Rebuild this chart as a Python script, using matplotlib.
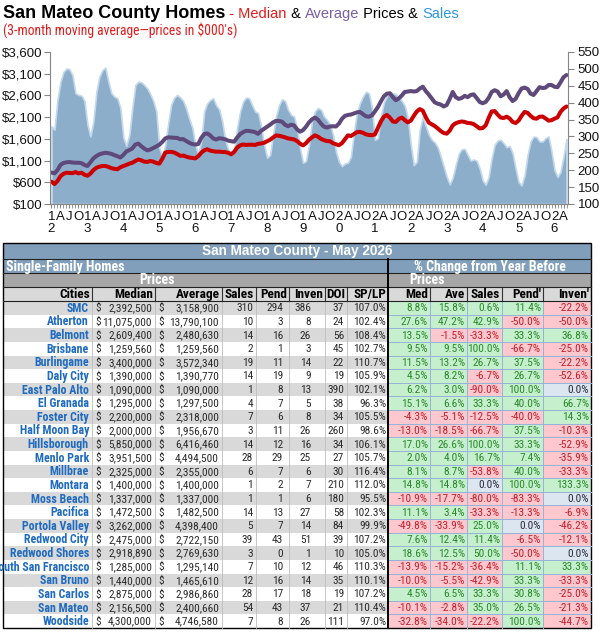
import matplotlib
matplotlib.use("Agg")
import matplotlib.pyplot as plt
from matplotlib import font_manager
from matplotlib.patches import Rectangle
import numpy as np

# 3-month moving averages, Jan 2012 .. May 2026 (prices in $000's)
median = [615, 560, 630, 740, 795, 820, 815, 810, 835, 805, 820, 775,
          750, 800, 880, 935, 960, 975, 975, 955, 925, 910, 900, 945,
          975, 1000, 1030, 1050, 1090, 1125, 1105, 1075, 1070, 1090, 1075, 1045,
          1030, 1140, 1285, 1300, 1300, 1285, 1250, 1210, 1215, 1190, 1170, 1160,
          1150, 1200, 1280, 1335, 1360, 1330, 1315, 1305, 1305, 1300, 1295, 1280,
          1245, 1300, 1400, 1450, 1470, 1460, 1465, 1465, 1460, 1485, 1495, 1510,
          1545, 1580, 1630, 1680, 1670, 1655, 1635, 1610, 1600, 1585, 1550, 1490,
          1450, 1500, 1580, 1635, 1680, 1650, 1600, 1570, 1550, 1545, 1500, 1475,
          1455, 1500, 1590, 1680, 1665, 1710, 1755, 1760, 1740, 1705, 1690, 1685,
          1700, 1850, 2000, 2110, 2150, 2090, 2000, 1990, 2060, 2090, 2030, 1980,
          2020, 2130, 2230, 2285, 2250, 2100, 1975, 1935, 1895, 1840, 1780, 1735,
          1720, 1790, 1910, 1960, 1985, 2000, 1990, 1965, 1960, 1940, 1890, 1840,
          1850, 1910, 2080, 2230, 2240, 2160, 2090, 2080, 2110, 2070, 1990, 1965,
          2020, 2130, 2220, 2200, 2130, 2075, 2065, 2110, 2115, 2070, 2020, 2030,
          2065, 2095, 2220, 2300, 2345]
average = [825, 805, 880, 1000, 1045, 1060, 1065, 1055, 1050, 1050, 1040, 1000,
           975, 1060, 1150, 1205, 1245, 1265, 1280, 1270, 1255, 1225, 1200, 1170,
           1230, 1310, 1340, 1380, 1470, 1490, 1430, 1375, 1335, 1355, 1390, 1425,
           1465, 1530, 1610, 1635, 1630, 1625, 1620, 1590, 1595, 1550, 1510, 1480,
           1470, 1480, 1620, 1710, 1725, 1680, 1610, 1585, 1615, 1605, 1590, 1560,
           1545, 1535, 1630, 1710, 1755, 1785, 1780, 1770, 1755, 1715, 1785, 1830,
           1880, 1925, 1980, 2015, 2010, 1995, 1925, 1890, 1925, 1910, 1820, 1765,
           1800, 1880, 1980, 2050, 2090, 2040, 1950, 1880, 1860, 1885, 1890, 1885,
           1950, 2060, 2130, 2150, 2160, 2185, 2210, 2220, 2170, 2120, 2110, 2140,
           2230, 2330, 2460, 2580, 2640, 2650, 2560, 2490, 2530, 2600, 2680, 2690,
           2700, 2690, 2700, 2760, 2800, 2700, 2620, 2530, 2440, 2410, 2390, 2345,
           2380, 2520, 2680, 2560, 2520, 2540, 2590, 2560, 2610, 2625, 2540, 2450,
           2420, 2450, 2540, 2680, 2720, 2690, 2580, 2620, 2700, 2560, 2470, 2520,
           2650, 2760, 2780, 2750, 2640, 2610, 2700, 2790, 2770, 2780, 2840, 2840,
           2800, 2790, 2900, 3020, 3070]
sales = [330, 320, 408, 462, 491, 501, 499, 481, 428, 423, 421, 405,
         335, 300, 345, 432, 477, 496, 504, 462, 428, 418, 413, 384,
         296, 272, 305, 384, 452, 462, 460, 452, 442, 425, 405, 374,
         266, 239, 276, 340, 395, 415, 423, 415, 405, 382, 352, 327,
         276, 247, 286, 374, 398, 408, 413, 392, 380, 345, 290, 262,
         247, 262, 325, 374, 403, 415, 413, 392, 374, 369, 330, 276,
         237, 245, 305, 359, 393, 410, 405, 379, 364, 359, 325, 266,
         222, 227, 276, 345, 374, 384, 379, 359, 349, 335, 305, 255,
         225, 212, 220, 222, 240, 310, 370, 398, 418, 432, 428, 385,
         290, 295, 360, 400, 420, 432, 428, 425, 415, 405, 390, 355,
         275, 215, 225, 320, 358, 330, 305, 290, 282, 268, 240, 210,
         180, 158, 178, 215, 248, 262, 263, 245, 228, 232, 228, 205,
         170, 157, 180, 235, 275, 288, 290, 280, 268, 272, 250, 205,
         165, 155, 185, 245, 285, 300, 298, 285, 285, 295, 300, 255,
         200, 180, 195, 240, 292]

# table, May 2026
cities = ["SMC", "Atherton", "Belmont", "Brisbane", "Burlingame", "Daly City",
          "East Palo Alto", "El Granada", "Foster City", "Half Moon Bay",
          "Hillsborough", "Menlo Park", "Millbrae", "Montara", "Moss Beach",
          "Pacifica", "Portola Valley", "Redwood City", "Redwood Shores",
          "South San Francisco", "San Bruno", "San Carlos", "San Mateo", "Woodside"]
t_median = [2392500, 11075000, 2609400, 1259560, 3400000, 1390000, 1090000, 1295000,
            2200000, 2000000, 5850000, 3951500, 2325000, 1400000, 1337000, 1472500,
            3262000, 2475000, 2918890, 1285000, 1440000, 2875000, 2156500, 4300000]
t_average = [3158900, 13790100, 2480630, 1259560, 3572340, 1390770, 1090000, 1297500,
             2318000, 1956670, 6416460, 4494500, 2355000, 1400000, 1337000, 1482500,
             4398400, 2722150, 2769630, 1295140, 1465610, 2986860, 2400660, 4746580]
t_sales = [310, 10, 14, 2, 19, 14, 1, 4, 7, 3, 14, 28, 6, 1, 1, 14, 5, 39, 3, 7, 12, 28, 54, 7]
t_pend = [294, 3, 16, 1, 11, 19, 8, 7, 6, 11, 12, 29, 7, 2, 1, 13, 7, 43, 0, 10, 16, 17, 43, 8]
t_inven = [386, 8, 26, 3, 14, 9, 13, 5, 8, 26, 16, 25, 6, 7, 6, 27, 14, 51, 1, 12, 14, 18, 37, 26]
t_doi = [37, 24, 56, 45, 22, 19, 390, 38, 34, 260, 34, 27, 30, 210, 180, 58, 84, 39, 10, 46, 35, 19, 21, 111]
t_splp = [107.0, 102.4, 108.4, 102.7, 110.7, 105.9, 102.1, 96.3, 105.5, 98.6, 106.1, 105.7,
          116.4, 112.0, 95.5, 102.3, 99.9, 107.2, 105.0, 110.3, 110.1, 107.2, 110.4, 97.0]
med_chg = [8.8, 27.6, 13.5, 9.5, 11.5, 4.5, 6.2, 15.1, -4.3, -13.0, 17.0, 2.0, 8.1, 14.8,
           -10.9, 11.1, -49.8, 7.6, 18.6, -13.9, -10.0, 4.5, -10.1, -32.8]
ave_chg = [15.8, 47.2, -1.5, 9.5, 13.2, 8.2, 3.0, 6.6, -5.1, -18.5, 26.6, 4.0, 8.7, 14.8,
           -17.7, 3.4, -33.9, 12.4, 12.5, -15.2, -5.5, 6.5, -2.8, -34.0]
sales_chg = [0.6, 42.9, -33.3, 100.0, 26.7, -6.7, -90.0, 33.3, -12.5, -66.7, 100.0, 16.7,
             -53.8, 0.0, -80.0, -33.3, 25.0, 11.4, 50.0, -36.4, -42.9, 33.3, 35.0, -22.2]
pend_chg = [11.4, -50.0, 33.3, -66.7, 37.5, 26.7, 100.0, 40.0, -40.0, 37.5, 33.3, 7.4,
            40.0, 100.0, -83.3, -13.3, 0.0, -6.5, -50.0, 11.1, 33.3, 30.8, 26.5, 100.0]
inven_chg = [-22.2, -50.0, 36.8, -25.0, -22.2, -52.6, 0.0, 66.7, 14.3, -10.3, -52.9, -35.9,
             -33.3, 133.3, 0.0, -6.9, -46.2, -12.1, 0.0, 33.3, -33.3, -25.0, -21.3, -44.7]

headers = ["Cities", "Median", "Average", "Sales", "Pend", "Inven", "DOI", "SP/LP",
           "Med", "Ave", "Sales", "Pend'", "Inven'"]

# the table is set in a narrow face; use one if installed
names = {f.name for f in font_manager.fontManager.ttflist}
NARROW = None
for n in ("Liberation Sans Narrow", "Arial Narrow", "Roboto Condensed"):
    if n in names:
        NARROW = n
        break
if NARROW:
    FS = dict(sub=9.8, band=10, head=9.5, city=8.6, num=8.2)
else:
    NARROW = "Liberation Sans"
    FS = dict(sub=9.0, band=8.6, head=8.2, city=7.4, num=7.2)
plt.rcParams["font.family"] = ["Liberation Sans", "DejaVu Sans"]

fig = plt.figure(figsize=(6.05, 6.34), dpi=100)
fig.patch.set_facecolor("white")

# page axes in pixel units (titles + table)
pg = fig.add_axes([0, 0, 1, 1])
pg.set_xlim(0, 605)
pg.set_ylim(634, 0)
pg.axis("off")
pg.set_zorder(0)

fig.canvas.draw()
rend = fig.canvas.get_renderer()


def seq_text(x, y, parts):
    for s, col, kw in parts:
        t = pg.text(x, y, s, color=col, va="baseline", ha="left", **kw)
        x += t.get_window_extent(renderer=rend).width


seq_text(3, 18, [("San Mateo County Homes", "black", dict(fontsize=13, fontweight="bold")),
                 (" - Median", "#E01B1B", dict(fontsize=10.5)),
                 (" & ", "black", dict(fontsize=10.5)),
                 ("Average", "#7B5EA7", dict(fontsize=10.5)),
                 (" Prices & ", "black", dict(fontsize=10.5)),
                 ("Sales", "#2F96D8", dict(fontsize=10.5))])
pg.text(3, 34.5, "(3-month moving average\u2014prices in $000's)", color="#E01B1B",
        fontsize=FS["sub"], family=NARROW, va="baseline")

# ---- chart ----
ax = fig.add_axes([50 / 605, 1 - 204 / 634, 518 / 605, 152 / 634])
ax2 = ax.twinx()
ax.set_zorder(3)
ax2.set_zorder(2)
ax.patch.set_visible(False)

months = np.arange(len(sales))
ax2.fill_between(months, 100, sales, facecolor="#8CAECB", edgecolor="#C2D8EC", linewidth=1.2)
ax.plot(months, median, color="#CC0000", lw=2.9, solid_joinstyle="round", solid_capstyle="round")
ax.plot(months, average, color="#5F497A", lw=2.9, solid_joinstyle="round", solid_capstyle="round")

ax.set_xlim(-0.5, len(sales) - 0.5)
ax.set_ylim(100, 3600)
ax2.set_ylim(100, 550)
lt = list(range(100, 3601, 500))
ax.set_yticks(lt)
ax.set_yticklabels([f"${v:,}" for v in lt])
ax2.set_yticks(list(range(100, 551, 50)))

qt = months[::3]
qlab = []
for m in qt:
    if m % 12 == 0:
        yy = 12 + m // 12
        qlab.append(f"{yy // 10}\n{yy % 10}")
    else:
        qlab.append("AJO"[(m % 12) // 3 - 1])
ax.set_xticks(qt)
ax.set_xticklabels(qlab, linespacing=1.05)
ax.set_xticks(months, minor=True)

gray = "#868686"
for a in (ax, ax2):
    a.spines["top"].set_visible(False)
    for s in a.spines.values():
        s.set_color(gray)
ax.spines["right"].set_visible(False)
ax2.spines["left"].set_visible(False)
ax2.spines["bottom"].set_visible(False)
ax.tick_params(axis="y", length=4, color=gray, labelsize=9.5, pad=1.5, labelcolor="#111111")
ax2.tick_params(axis="y", length=4, color=gray, labelsize=9.5, pad=3, labelcolor="#111111")
ax.tick_params(axis="x", which="both", length=3, color=gray, labelsize=9.5, pad=2,
               labelcolor="#111111")

# ---- table ----
edges = [3, 92, 155, 222, 256, 289, 325, 347, 388, 430, 467, 502, 543, 591]
pads = [3, 3, 3, 3, 6, 14, 3, 2, 2, 2, 2, 2, 2]
steel = "#819FBB"
L, R = edges[0], edges[-1]
mid = edges[8]
top = 243
y_sf, y_pr, y_hd, y_dt = 259, 273, 287, 301
bottom = 628
rh = (bottom - y_dt) / len(cities)


def box(x0, y0, x1, y1, fc, ec="none", lw=0):
    pg.add_patch(Rectangle((x0, y0), x1 - x0, y1 - y0, facecolor=fc, edgecolor=ec, linewidth=lw))


box(L, top, R, y_sf, steel)
box(L, y_sf, R, y_pr, steel)
box(L, y_pr, R, y_hd, "#A6A6A6")
box(L, y_hd, R, y_dt, "#D9D9D9")

pg.text((L + R) / 2, (top + y_sf) / 2 + 0.5, "San Mateo County - May 2026", color="white",
        fontsize=9.8, fontweight="bold", ha="center", va="center")
band = dict(color="white", fontsize=FS["band"], family=NARROW, fontweight="bold", va="center")
pg.text(L + 3, (y_sf + y_pr) / 2 + 0.5, "Single-Family Homes", ha="left", **band)
pg.text((mid + R) / 2, (y_sf + y_pr) / 2 + 0.5, "% Change from Year Before", ha="center", **band)
pg.text((edges[1] + edges[3]) / 2, (y_pr + y_hd) / 2 + 0.5, "Prices", ha="center", **band)
pg.text((edges[8] + edges[10]) / 2, (y_pr + y_hd) / 2 + 0.5, "Prices", ha="center", **band)
for i, h in enumerate(headers):
    pg.text(edges[i + 1] - 2, (y_hd + y_dt) / 2 + 0.5, h, color="black", fontsize=FS["head"],
            family=NARROW, fontweight="bold", ha="right", va="center")

clip = Rectangle((L, y_dt), edges[1] - L, bottom - y_dt, transform=pg.transData,
                 facecolor="none", edgecolor="none")
pg.add_patch(clip)

num_kw = dict(fontsize=FS["num"], family=NARROW, color="#2B2B2B", ha="right", va="center")
changes = [med_chg, ave_chg, sales_chg, pend_chg, inven_chg]
for r, city in enumerate(cities):
    y0 = y_dt + r * rh
    yc = y0 + rh / 2 + 0.5
    box(L, y0, mid, y0 + rh, "#D9D9D9" if r % 2 == 0 else "white")
    t = pg.text(edges[1] - 3, yc, city, color="#1F6BBF", fontsize=FS["city"], family=NARROW,
                fontweight="bold", ha="right", va="center")
    t.set_clip_path(clip)
    for k, v in ((1, t_median[r]), (2, t_average[r])):
        pg.text(edges[k] + 3, yc, "$", **{**num_kw, "ha": "left"})
        pg.text(edges[k + 1] - 3, yc, f"{v:,}", **num_kw)
    for k, v in ((3, t_sales[r]), (4, t_pend[r]), (5, t_inven[r]), (6, t_doi[r])):
        pg.text(edges[k + 1] - pads[k], yc, f"{v}", **num_kw)
    pg.text(edges[8] - 2, yc, f"{t_splp[r]:.1f}%", **num_kw)
    for j, ser in enumerate(changes):
        v = ser[r]
        if v > 0:
            fc, tc = "#C6EFCE", "#2A8A2A"
        elif v < 0:
            fc, tc = "#FFC7CE", "#C4202B"
        else:
            fc, tc = "#DCE6F1", "#2B2B3B"
        box(edges[8 + j], y0, edges[9 + j], y0 + rh, fc)
        pg.text(edges[9 + j] - 2, yc, f"{v:.1f}%", **{**num_kw, "color": tc})

# grid lines
for x in edges[1:8]:
    pg.plot([x, x], [y_dt, bottom], color="#BDBDBD", lw=0.6)
for x in edges[9:13]:
    pg.plot([x, x], [y_dt, bottom], color="#95B3D7", lw=0.7)
for r in range(1, len(cities)):
    yy = y_dt + r * rh
    pg.plot([mid, R], [yy, yy], color="#95B3D7", lw=0.7)
for x in edges[1:13]:
    pg.plot([x, x], [y_hd, y_dt], color="#333333", lw=0.8)
for yy in (y_sf, y_pr, y_hd, y_dt):
    pg.plot([L, R], [yy, yy], color="#222222", lw=0.8)
pg.plot([mid, mid], [y_sf, bottom], color="black", lw=1.4)
pg.add_patch(Rectangle((L, top), R - L, bottom - top, facecolor="none", edgecolor="black", lw=1.0))

fig.savefig("out.png", dpi=100, facecolor="white")
